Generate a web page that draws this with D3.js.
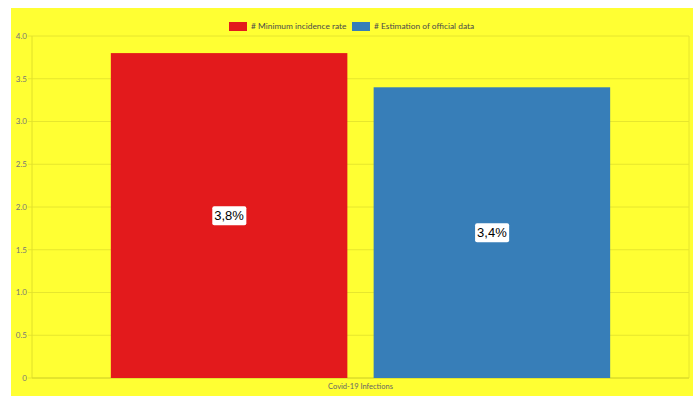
<!DOCTYPE html>
<html><head><meta charset="utf-8">
<script src="https://cdn.jsdelivr.net/npm/d3@7"></script>
<style>html,body{margin:0;padding:0;background:#fff;}svg{display:block;font-family:Lato,"Open Sans",sans-serif;}</style>
</head><body>
<svg id="c" width="697" height="396"></svg>
<script>
(function(){
const categories = ["Covid-19 Infections"];
const seriesNames = ["# Minimum incidence rate", "# Estimation of official data"];
const seriesValues = [3.8, 3.4];
const seriesLabels = ["3,8%", "3,4%"];
const seriesColors = ["#e31a1c", "#377eb8"];
const yTicks = [0, 0.5, 1.0, 1.5, 2.0, 2.5, 3.0, 3.5, 4.0];
const yTickLabels = ["0", "0.5", "1.0", "1.5", "2.0", "2.5", "3.0", "3.5", "4.0"];

const svg = d3.select("#c");
svg.append("rect").attr("x", 11).attr("y", 8).attr("width", 682).attr("height", 388).attr("fill", "#ffff33");

const pL = 32, pR = 689, pT = 36, pB = 378;
const y = d3.scaleLinear().domain([0, 4]).range([pB, pT]);
const x0 = d3.scaleBand().domain(categories).range([pL, pR]).paddingInner(0).paddingOuter(0);
const catW = x0.bandwidth() * 0.8;
const x1 = d3.scaleBand().domain(seriesNames).range([0, catW]).paddingInner(0.1).paddingOuter(0.05);

// grid
const g = svg.append("g");
g.selectAll("line.grid").data(yTicks).join("line")
  .attr("x1", pL - 4).attr("x2", pR).attr("y1", d => y(d)).attr("y2", d => y(d))
  .attr("stroke", "#e6e62e").attr("stroke-width", 1);
g.append("line").attr("x1", pL).attr("x2", pL).attr("y1", pT).attr("y2", pB).attr("stroke", "#e0e02a");
g.append("line").attr("x1", pR).attr("x2", pR).attr("y1", pT).attr("y2", pB).attr("stroke", "#e6e62e");
g.append("line").attr("x1", pL).attr("x2", pR).attr("y1", pB).attr("y2", pB).attr("stroke", "#d6d628");

// y tick labels
svg.append("g").selectAll("text").data(yTicks).join("text")
  .attr("x", pL - 5).attr("y", d => y(d)).attr("dy", "0.35em")
  .attr("text-anchor", "end").attr("font-size", 8).attr("fill", "#777")
  .text((d, i) => yTickLabels[i]);

// bars
const cat = categories[0];
const cx = x0(cat) + (x0.bandwidth() - catW) / 2;
const bars = svg.append("g");
seriesNames.forEach((s, i) => {
  const bx = cx + x1(s), bw = x1.bandwidth();
  bars.append("rect").attr("x", bx).attr("y", y(seriesValues[i])).attr("width", bw)
    .attr("height", y(0) - y(seriesValues[i])).attr("fill", seriesColors[i]);
  const ly = y(seriesValues[i] / 2);
  const lg = bars.append("g");
  const t = lg.append("text").attr("x", bx + bw / 2).attr("y", ly).attr("dy", "0.36em")
    .attr("text-anchor", "middle").attr("font-size", 13).attr("fill", "#000")
    .attr("font-family", "Arial, 'Liberation Sans', sans-serif").text(seriesLabels[i]);
  const bb = t.node().getBBox();
  lg.insert("rect", "text").attr("x", bb.x - 2).attr("y", bb.y - 2).attr("width", bb.width + 4)
    .attr("height", bb.height + 4).attr("fill", "#fff").attr("rx", 2);
});

// x label
svg.append("text").attr("x", (pL + pR) / 2).attr("y", 389).attr("text-anchor", "middle")
  .attr("font-size", 7.5).attr("fill", "#666").text(categories[0]);

// legend
const leg = svg.append("g");
const items = [{x: 229}, {x: 352}];
seriesNames.forEach((s, i) => {
  leg.append("rect").attr("x", items[i].x).attr("y", 22).attr("width", 18).attr("height", 9).attr("fill", seriesColors[i]);
  leg.append("text").attr("x", items[i].x + 22).attr("y", 26.5).attr("dy", "0.35em")
    .attr("font-size", 8.4).attr("fill", "#4a4a4a").text(s);
});
})();
</script>
</body></html>
